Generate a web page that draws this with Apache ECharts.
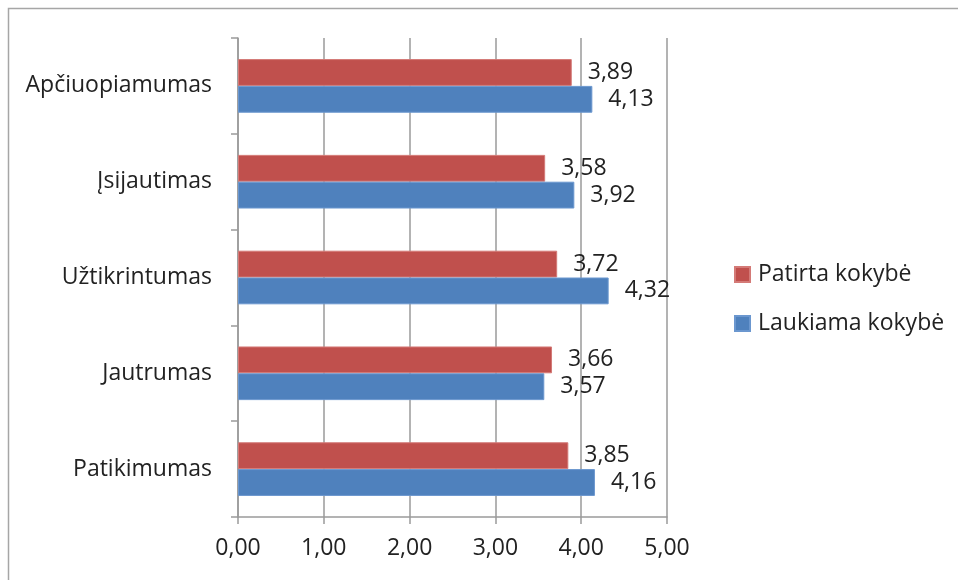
<!DOCTYPE html>
<html>
<head>
<meta charset="utf-8">
<script src="https://cdn.jsdelivr.net/npm/echarts@6/dist/echarts.min.js"></script>
<style>
  html, body { margin: 0; padding: 0; background: #fff; }
  #chart { width: 958px; height: 580px; }
</style>
</head>
<body>
<div id="chart"></div>
<script>
// Service quality dimensions, bottom to top
const categories = ['Patikimumas', 'Jautrumas', 'Užtikrintumas', 'Įsijautimas', 'Apčiuopiamumas'];
const experienced = [3.85, 3.66, 3.72, 3.58, 3.89];   // Patirta kokybė
const expected = [4.16, 3.57, 4.32, 3.92, 4.13];      // Laukiama kokybė
const xTicks = [0, 1, 2, 3, 4, 5];

const FONT = 'Open Sans';
const SIZE = 23;
const TEXT = '#222';
const fmt = v => v.toFixed(2).replace('.', ',');

const chart = echarts.init(document.getElementById('chart'));
chart.setOption({
  animation: false,
  textStyle: { fontFamily: FONT },
  grid: { left: 238, right: 291, top: 38, bottom: 63 },
  graphic: [{
    type: 'rect',
    shape: { x: 8.5, y: 8.5, width: 1000, height: 1000 },
    style: { fill: 'none', stroke: '#a6a6a6', lineWidth: 1.5 },
    silent: true
  }],
  legend: {
    orient: 'vertical',
    left: 729,
    top: 258,
    itemWidth: 15,
    itemHeight: 15,
    itemGap: 26,
    icon: 'rect',
    data: ['Patirta kokybė', 'Laukiama kokybė'],
    textStyle: { fontFamily: FONT, fontSize: SIZE, color: TEXT, padding: [0, 0, 0, 3] }
  },
  xAxis: {
    type: 'value',
    min: xTicks[0],
    max: xTicks[xTicks.length - 1],
    interval: 1,
    axisLine: { show: true, lineStyle: { color: '#9a9a9a', width: 1.5 } },
    axisTick: { show: true, length: 7, lineStyle: { color: '#9a9a9a', width: 1.5 } },
    splitLine: { show: true, lineStyle: { color: '#9a9a9a', width: 1.5 } },
    axisLabel: { fontSize: SIZE, color: TEXT, margin: 20, formatter: v => fmt(v) }
  },
  yAxis: {
    type: 'category',
    data: categories,
    axisLine: { show: true, lineStyle: { color: '#9a9a9a', width: 1.5 } },
    axisTick: { show: true, length: 7, lineStyle: { color: '#9a9a9a', width: 1.5 } },
    axisLabel: { fontSize: SIZE, color: TEXT, margin: 26 }
  },
  series: [
    {
      name: 'Patirta kokybė',
      type: 'bar',
      data: experienced,
      barGap: '0%',
      barCategoryGap: '44%',
      itemStyle: { color: '#c0504d', borderColor: '#d47a77', borderWidth: 1 },
      label: { show: true, position: 'right', distance: 16, fontSize: SIZE, color: TEXT, formatter: p => fmt(p.value) }
    },
    {
      name: 'Laukiama kokybė',
      type: 'bar',
      data: expected,
      barGap: '0%',
      barCategoryGap: '44%',
      itemStyle: { color: '#4f81bd', borderColor: '#6b97cf', borderWidth: 1 },
      label: { show: true, position: 'right', distance: 16, fontSize: SIZE, color: TEXT, formatter: p => fmt(p.value) }
    }
  ]
});
</script>
</body>
</html>
